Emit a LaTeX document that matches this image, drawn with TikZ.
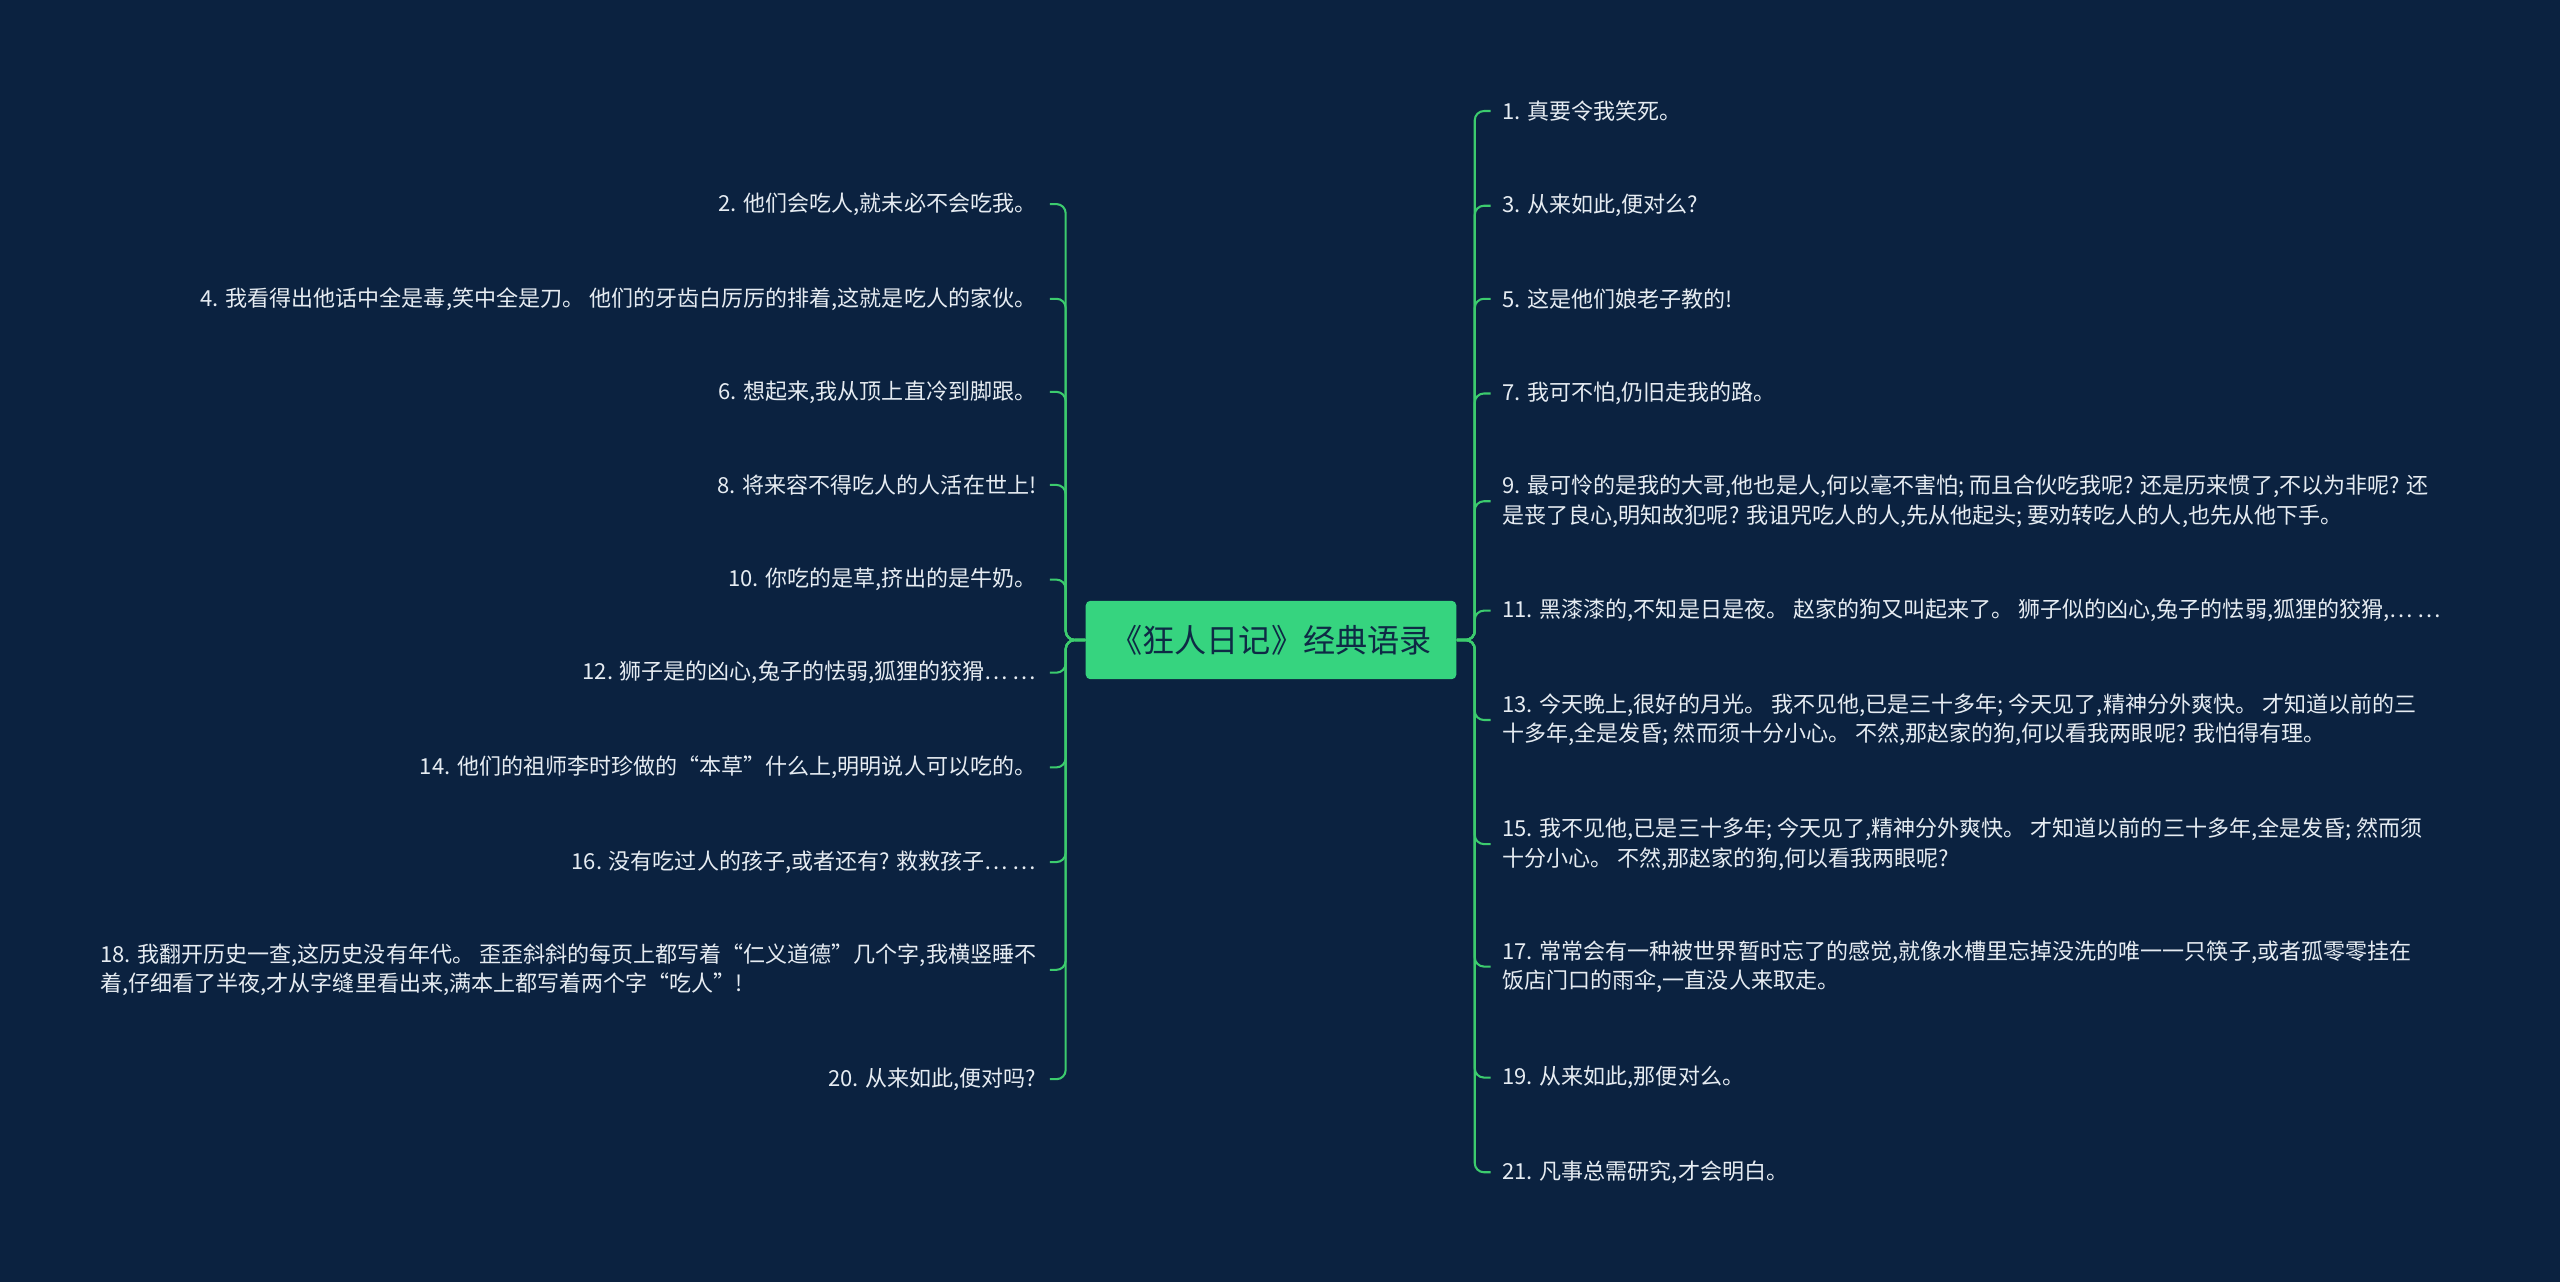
\documentclass[tikz,border=0pt]{standalone}
\usepackage{fontspec}
\setmainfont{Noto Sans CJK SC}
\usetikzlibrary{positioning}
\definecolor{bgnavy}{HTML}{0B2240}
\definecolor{leafgreen}{HTML}{3CCB6E}
\definecolor{rootgreen}{HTML}{36D47F}
\definecolor{leaftext}{HTML}{E6ECF2}
\definecolor{roottext}{HTML}{0E2A45}
\tikzset{
  rootbox/.style = {fill=rootgreen, rounded corners=2pt, text=roottext, font=\fontsize{14}{16}\selectfont,
                    minimum width=227*0.025cm, minimum height=48*0.025cm, inner sep=0pt},
  rleaf/.style = {anchor=west, text=leaftext, font=\fontsize{9.6}{12.8}\selectfont, align=left, inner xsep=7*0.025cm},
  lleaf/.style = {anchor=east, text=leaftext, font=\fontsize{9.6}{12.8}\selectfont, align=left, inner xsep=8*0.025cm},
  branch/.style = {draw=leafgreen, line width=0.9pt, rounded corners=4pt}
}
\begin{document}
\begin{tikzpicture}[x=0.025cm,y=-0.025cm]
		\fill [bgnavy] (0,0) rectangle (1568,785);
		\useasboundingbox (0,0) rectangle (1568,785);
		
		\node [rootbox] (root) at (778.5,392) {《狂人日记》经典语录};
		
		% right side
		\node [rleaf] (r1) at (913,68) {1. 真要令我笑死。};
		\node [rleaf] (r3) at (913,126) {3. 从来如此,便对么?};
		\node [rleaf] (r5) at (913,183) {5. 这是他们娘老子教的!};
		\node [rleaf] (r7) at (913,241) {7. 我可不怕,仍旧走我的路。};
		\node [rleaf] (r9) at (913,307) {9. 最可怜的是我的大哥,他也是人,何以毫不害怕; 而且合伙吃我呢? 还是历来惯了,不以为非呢? 还\\是丧了良心,明知故犯呢? 我诅咒吃人的人,先从他起头; 要劝转吃人的人,也先从他下手。};
		\node [rleaf] (r11) at (913,374) {11. 黑漆漆的,不知是日是夜。 赵家的狗又叫起来了。 狮子似的凶心,兔子的怯弱,狐狸的狡猾,… …};
		\node [rleaf] (r13) at (913,441) {13. 今天晚上,很好的月光。 我不见他,已是三十多年; 今天见了,精神分外爽快。 才知道以前的三\\十多年,全是发昏; 然而须十分小心。 不然,那赵家的狗,何以看我两眼呢? 我怕得有理。};
		\node [rleaf] (r15) at (913,517) {15. 我不见他,已是三十多年; 今天见了,精神分外爽快。 才知道以前的三十多年,全是发昏; 然而须\\十分小心。 不然,那赵家的狗,何以看我两眼呢?};
		\node [rleaf] (r17) at (913,592) {17. 常常会有一种被世界暂时忘了的感觉,就像水槽里忘掉没洗的唯一一只筷子,或者孤零零挂在\\饭店门口的雨伞,一直没人来取走。};
		\node [rleaf] (r19) at (913,660) {19. 从来如此,那便对么。};
		\node [rleaf] (r21) at (913,718) {21. 凡事总需研究,才会明白。};
		
		% left side
		\node [lleaf] (l2) at (643,125) {2. 他们会吃人,就未必不会吃我。};
		\node [lleaf] (l4) at (643,183) {4. 我看得出他话中全是毒,笑中全是刀。 他们的牙齿白厉厉的排着,这就是吃人的家伙。};
		\node [lleaf] (l6) at (643,240) {6. 想起来,我从顶上直冷到脚跟。};
		\node [lleaf] (l8) at (643,297) {8. 将来容不得吃人的人活在世上!};
		\node [lleaf] (l10) at (643,355) {10. 你吃的是草,挤出的是牛奶。};
		\node [lleaf] (l12) at (643,412) {12. 狮子是的凶心,兔子的怯弱,狐狸的狡猾… …};
		\node [lleaf] (l14) at (643,470) {14. 他们的祖师李时珍做的“本草”什么上,明明说人可以吃的。};
		\node [lleaf] (l16) at (643,528) {16. 没有吃过人的孩子,或者还有? 救救孩子… …};
		\node [lleaf] (l18) at (643,594) {18. 我翻开历史一查,这历史没有年代。 歪歪斜斜的每页上都写着“仁义道德”几个字,我横竖睡不\\着,仔细看了半夜,才从字缝里看出来,满本上都写着两个字“吃人”!};
		\node [lleaf] (l20) at (643,661) {20. 从来如此,便对吗?};
		
		\foreach \leaf in {r1,r3,r5,r7,r9,r11,r13,r15,r17,r19,r21}
			\draw [branch] (root.east) -- ++(11,0) |- (\leaf.west);
		\foreach \leaf in {l2,l4,l6,l8,l10,l12,l14,l16,l18,l20}
			\draw [branch] (root.west) -- ++(-12,0) |- (\leaf.east);
	\end{tikzpicture}
\end{document}
